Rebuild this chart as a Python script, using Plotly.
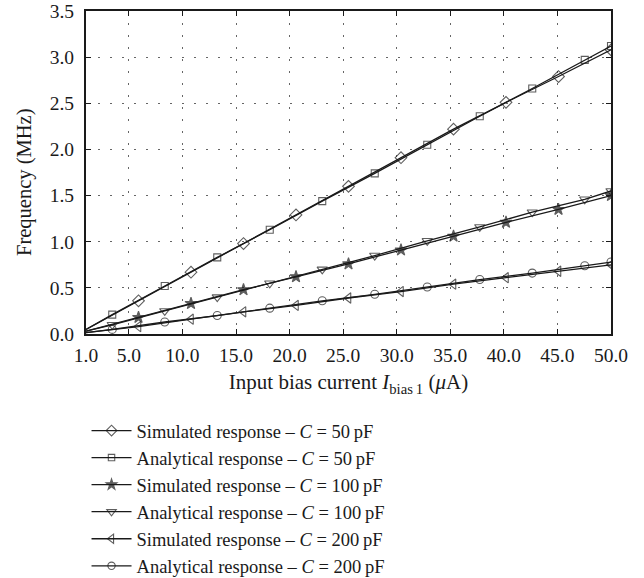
import plotly.graph_objects as go

# x positions (µA) of data points; first point (1.0) is line-only
x_sim = [1.0, 5.9, 10.8, 15.7, 20.6, 25.5, 30.4, 35.3, 40.2, 45.1, 50.0]
x_ana = [1.0, 3.45, 8.35, 13.25, 18.15, 23.05, 27.95, 32.85, 37.75, 42.65, 47.55, 50.0]

# Frequencies (MHz)
sim_50 = [0.05, 0.36, 0.67, 0.98, 1.29, 1.60, 1.91, 2.22, 2.51, 2.79, 3.08]
ana_50 = [0.05, 0.21, 0.52, 0.83, 1.13, 1.44, 1.74, 2.05, 2.36, 2.66, 2.97, 3.12]
sim_100 = [0.03, 0.18, 0.33, 0.48, 0.62, 0.76, 0.91, 1.06, 1.21, 1.35, 1.50]
ana_100 = [0.03, 0.10, 0.25, 0.40, 0.55, 0.70, 0.85, 1.01, 1.16, 1.32, 1.46, 1.55]
sim_200 = [0.015, 0.08, 0.16, 0.24, 0.31, 0.39, 0.46, 0.54, 0.61, 0.68, 0.75]
ana_200 = [0.015, 0.05, 0.13, 0.20, 0.28, 0.36, 0.43, 0.51, 0.59, 0.66, 0.74, 0.78]

x_tick_vals = [1, 5, 10, 15, 20, 25, 30, 35, 40, 45, 50]
x_tick_text = ["1.0", "5.0", "10.0", "15.0", "20.0", "25.0", "30.0", "35.0", "40.0", "45.0", "50.0"]
y_tick_vals = [0, 0.5, 1.0, 1.5, 2.0, 2.5, 3.0, 3.5]
y_tick_text = ["0.0", "0.5", "1.0", "1.5", "2.0", "2.5", "3.0", "3.5"]

x_title = "Input bias current <i>I</i><sub>bias\u20091</sub> (<i>\u03bc</i>A)"
y_title = "Frequency (MHz)"

labels = [
    "Simulated response \u2013 <i>C</i> = 50\u2009pF",
    "Analytical response \u2013 <i>C</i> = 50\u2009pF",
    "Simulated response \u2013 <i>C</i> = 100\u2009pF",
    "Analytical response \u2013 <i>C</i> = 100\u2009pF",
    "Simulated response \u2013 <i>C</i> = 200\u2009pF",
    "Analytical response \u2013 <i>C</i> = 200\u2009pF",
]

series = [
    (x_sim, sim_50, "diamond-open", 9),
    (x_ana, ana_50, "square-open", 7),
    (x_sim, sim_100, "star", 9),
    (x_ana, ana_100, "triangle-down-open", 9),
    (x_sim, sim_200, "triangle-left-open", 9),
    (x_ana, ana_200, "circle-open", 8),
]

FONT = "Liberation Serif"
INK = "#1a1a1a"
fig = go.Figure()
for (xs, ys, sym, sz), lab in zip(series, labels):
    sizes = [0] + [sz] * (len(xs) - 1)
    fig.add_trace(go.Scatter(
        x=xs, y=ys, mode="lines+markers", name=lab,
        line=dict(color=INK, width=1.3),
        marker=dict(symbol=sym, size=sizes, color=INK,
                    line=dict(color=INK, width=1.1)),
    ))

axis_common = dict(
    showline=True, linecolor=INK, linewidth=2, mirror="ticks",
    ticks="inside", ticklen=5, tickcolor=INK, tickwidth=1,
    showgrid=True, gridcolor="#666666", griddash="1.5px,10.5px", gridwidth=1,
    zeroline=False,
    tickfont=dict(family=FONT, size=19.5, color=INK),
)

fig.update_layout(
    width=644, height=578,
    margin=dict(l=86, r=33, t=11, b=244, autoexpand=False),
    paper_bgcolor="white", plot_bgcolor="white",
    font=dict(family=FONT, size=18.5, color=INK),
    xaxis=dict(range=[1, 50], tickvals=x_tick_vals, ticktext=x_tick_text,
               title=dict(text=x_title, font=dict(family=FONT, size=21), standoff=9),
               ticklabelstandoff=3,
               **axis_common),
    yaxis=dict(range=[0, 3.5], tickvals=y_tick_vals, ticktext=y_tick_text,
               ticklabelstandoff=6,
               **axis_common),
    legend=dict(x=0.001, y=-0.2415, xanchor="left", yanchor="top",
                font=dict(family=FONT, size=18.5), bgcolor="rgba(0,0,0,0)",
                tracegroupgap=0, itemwidth=40),
    showlegend=True,
    annotations=[dict(
        text=y_title, textangle=-90, xref="paper", yref="paper",
        x=-0.1185, y=0.47, xanchor="center", yanchor="middle",
        showarrow=False, font=dict(family=FONT, size=20.5, color=INK),
    )],
)

fig.write_html("out.html")
